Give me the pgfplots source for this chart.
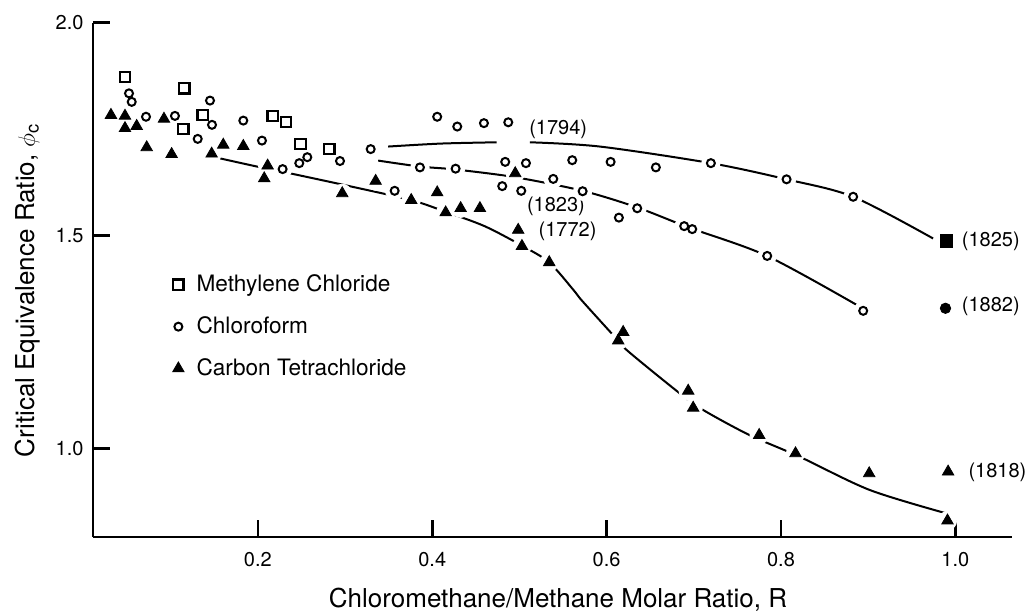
\documentclass[border=0pt]{standalone}
\usepackage{fontspec}
\setmainfont{TeX Gyre Heros}
\usepackage{pgfplots}
\usepackage{pgfplotstable}
\pgfplotsset{compat=1.18}

\pgfplotstableread{
x y
0.0476 1.872
0.1156 1.846
0.1367 1.783
0.1144 1.750
0.2170 1.781
0.2322 1.767
0.2489 1.715
0.2819 1.703
}\dcm

\pgfplotstableread{
x y
0.0522 1.834
0.0553 1.814
0.0717 1.779
0.1049 1.781
0.1310 1.727
0.1451 1.817
0.1474 1.760
0.1833 1.770
0.2047 1.723
0.2284 1.656
0.2475 1.670
0.2567 1.684
0.2942 1.675
0.3294 1.703
0.3569 1.605
0.3859 1.660
0.4057 1.779
0.4268 1.657
0.4287 1.756
0.4593 1.764
0.4803 1.616
0.4837 1.673
0.4872 1.766
0.5021 1.605
0.5075 1.670
0.5388 1.633
0.5606 1.677
0.5725 1.604
0.6046 1.673
0.6141 1.542
0.6351 1.564
0.6565 1.660
0.6890 1.522
0.6982 1.515
0.7196 1.670
0.7842 1.452
0.8064 1.632
0.8828 1.591
0.8943 1.323
}\chl

\pgfplotstableread{
x y
0.0315 1.783
0.0476 1.781
0.0476 1.752
0.0610 1.757
0.0725 1.707
0.0923 1.774
0.1011 1.691
0.1470 1.692
0.1603 1.713
0.1833 1.710
0.2073 1.634
0.2112 1.664
0.2968 1.599
0.3351 1.628
0.3759 1.583
0.4057 1.601
0.4154 1.554
0.4326 1.564
0.4547 1.564
0.4952 1.646
0.4986 1.513
0.5029 1.475
0.5342 1.437
0.6133 1.253
0.6190 1.273
0.6936 1.135
0.6993 1.095
0.7750 1.031
0.8167 0.988
0.9012 0.941
0.9910 0.830
}\ctc

\begin{document}
\begin{tikzpicture}
\useasboundingbox (-46.5pt,-37pt) rectangle (466.5pt,268.5pt);
\begin{axis}[
  at={(0pt,0pt)}, anchor=south west,
  scale only axis, width=459.5pt, height=257.15pt,
  xmin=0.0109, xmax=1.065, ymin=0.7916, ymax=2.0,
  axis lines=left,
  axis line style={-, line width=1.3pt},
  tick align=inside, major tick length=8.5pt,
  tick style={line width=1.3pt, black},
  xtick={0.2,0.4,0.6,0.8,1.0}, ytick={1.0,1.5,2.0},
  minor tick num=0,
  /pgf/number format/.cd, fixed, fixed zerofill, precision=1, assume math mode=true,
  /pgfplots/.cd,
  tick label style={font=\fontsize{10}{12}\selectfont},
  xticklabel style={yshift=-4pt},
  yticklabel style={xshift=-1.2pt},
  xlabel={Chloromethane/Methane Molar Ratio, R},
  ylabel={Critical Equivalence Ratio, $\phi$\textsubscript{c}},
  label style={font=\fontsize{13}{15}\selectfont},
  xlabel style={at={(axis description cs:0.506,-0.122)}, anchor=center},
  ylabel style={at={(axis description cs:-0.0707,0.48)}, anchor=center},
  clip=false,
  legend image code/.code={\path[draw=none, fill=none] (0cm,-0.1cm) rectangle (0.5cm,0.1cm);
    \draw[mark repeat=2,mark phase=2,#1] plot coordinates {(0cm,0cm) (0.25cm,0cm) (0.5cm,0cm)};},
  legend style={draw=none, fill=none, inner sep=0pt,
    nodes={inner sep=2pt},
    at={(axis description cs:0.077,0.409)}, anchor=west,
    font=\fontsize{11.3}{13}\selectfont, row sep=7pt,
    legend cell align=left},
]
% fitted curves
\addplot[smooth, line width=1pt, forget plot] coordinates {
 (0.3495,1.709) (0.41,1.716) (0.4738,1.719)};
\addplot[smooth, line width=1pt, forget plot] coordinates {
 (0.512,1.719) (0.5923,1.709) (0.7196,1.670) (0.8064,1.632) (0.8828,1.591) (0.9745,1.493)};
\addplot[smooth, line width=1pt, forget plot] coordinates {
 (0.338,1.676) (0.386,1.662) (0.427,1.655) (0.495,1.637) (0.5725,1.605) (0.635,1.566) (0.694,1.519) (0.784,1.452) (0.8885,1.335)};
\addplot[smooth, line width=1pt, forget plot] coordinates {
 (0.157,1.681) (0.199,1.662) (0.237,1.646) (0.305,1.616) (0.376,1.583) (0.415,1.556) (0.46,1.522) (0.503,1.476) (0.534,1.437) (0.562,1.372) (0.5713,1.348) (0.6057,1.270) (0.623,1.231) (0.684,1.129) (0.7108,1.09) (0.764,1.031) (0.8216,0.980) (0.9019,0.902) (0.9899,0.847)};
% white halos
\addplot[only marks, mark=*, mark size=4.6pt, white, forget plot] table {\dcm};
\addplot[only marks, mark=*, mark size=4.6pt, white, forget plot] table {\chl};
\addplot[only marks, mark=*, mark size=4.6pt, white, forget plot] table {\ctc};
% data
\addplot[only marks, mark=square, mark size=2.6pt, line width=1.1pt, black] table {\dcm};
\addlegendentry{Methylene Chloride}
\addplot[only marks, mark=o, mark size=2pt, line width=1pt, black, mark options={fill=white}] table {\chl};
\addlegendentry{Chloroform}
\addplot[only marks, mark=triangle*, mark size=3.3pt, line width=0.4pt, black] table {\ctc};
\addlegendentry{Carbon Tetrachloride}
% literature values
\addplot[only marks, mark=square*, mark size=3.1pt, black, forget plot] coordinates {(0.9899,1.487)};
\addplot[only marks, mark=*, mark size=2.6pt, black, forget plot] coordinates {(0.9887,1.329)};
\addplot[only marks, mark=triangle*, mark size=3.3pt, line width=0.4pt, black, forget plot] coordinates {(0.9917,0.945)};
% annotations
\begin{scope}[every node/.style={anchor=west, inner sep=0pt, font=\fontsize{10}{12}\selectfont}]
\node at (axis cs:0.5109,1.7502) {(1794)};
\node at (axis cs:0.5083,1.5693) {(1823)};
\node at (axis cs:0.5216,1.5089) {(1772)};
\node at (axis cs:1.0071,1.487) {(1825)};
\node at (axis cs:1.0071,1.3327) {(1882)};
\node at (axis cs:1.0147,0.9427) {(1818)};
\end{scope}
\end{axis}
\end{tikzpicture}
\end{document}
